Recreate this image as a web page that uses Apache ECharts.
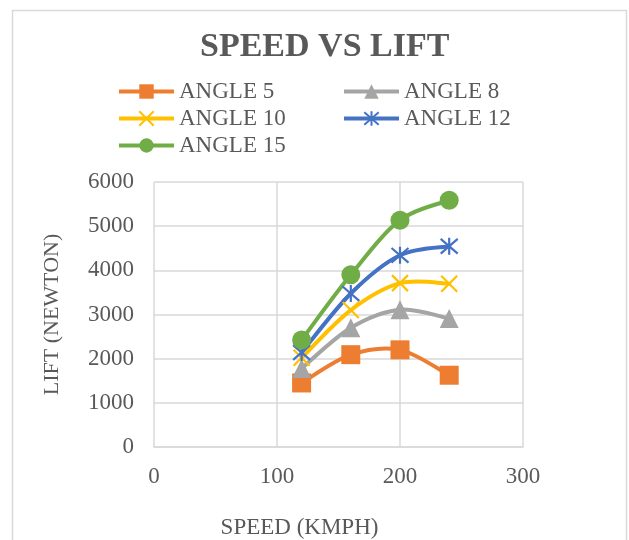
<!DOCTYPE html>
<html>
<head>
<meta charset="utf-8">
<script src="https://cdn.jsdelivr.net/npm/echarts@6/dist/echarts.min.js"></script>
<style>html,body{margin:0;padding:0;background:#fff}#c{width:629px;height:540px}</style>
</head>
<body>
<div id="c"></div>
<script>
var speeds = [120, 160, 200, 240];
var angle5 = [1450, 2090, 2200, 1625];
var angle8 = [1780, 2700, 3110, 2910];
var angle10 = [2020, 3100, 3710, 3695];
var angle12 = [2140, 3475, 4340, 4545];
var angle15 = [2425, 3900, 5135, 5585];
var seriesNames = ['ANGLE 5', 'ANGLE 8', 'ANGLE 10', 'ANGLE 12', 'ANGLE 15'];
var xTicks = [0, 100, 200, 300];
var yTicks = [0, 1000, 2000, 3000, 4000, 5000, 6000];

var FONT = '"Liberation Serif", "Times New Roman", serif';
var TXT = '#595959';
var GRID = '#d9d9d9';
var LW = 4;

function pairs(vals) { return speeds.map(function (s, i) { return [s, vals[i]]; }); }

var X_PATH = 'path://M0,0L10,10M10,0L0,10';
var STAR_PATH = 'path://M5,0L5,10M0.7,0.7L9.3,9.3M9.3,0.7L0.7,9.3';

// Excel-like smoothed curve: each data item draws the Catmull-Rom segment to the next point
function curve(name, vals, color) {
  var data = pairs(vals);
  return {
    name: name + ' curve', type: 'custom', data: data, z: 2, silent: true,
    encode: { x: 0, y: 1 },
    renderItem: function (params, api) {
      var i = params.dataIndex, n = data.length;
      if (i >= n - 1) return null;
      var p0 = api.coord(data[Math.max(i - 1, 0)]);
      var p1 = api.coord(data[i]);
      var p2 = api.coord(data[i + 1]);
      var p3 = api.coord(data[Math.min(i + 2, n - 1)]);
      return {
        type: 'bezierCurve',
        shape: {
          x1: p1[0], y1: p1[1], x2: p2[0], y2: p2[1],
          cpx1: p1[0] + (p2[0] - p0[0]) / 6, cpy1: p1[1] + (p2[1] - p0[1]) / 6,
          cpx2: p2[0] - (p3[0] - p1[0]) / 6, cpy2: p2[1] - (p3[1] - p1[1]) / 6
        },
        style: { stroke: color, lineWidth: LW, fill: 'none', lineCap: 'round' }
      };
    }
  };
}

function marks(name, vals, color, symbol, size, stroke) {
  var s = {
    name: name, type: 'line', data: pairs(vals),
    symbol: symbol, symbolSize: size, showAllSymbol: true,
    lineStyle: { color: color, width: LW, opacity: 0 },
    itemStyle: { color: color },
    emphasis: { disabled: true }, z: 4
  };
  if (stroke) {
    s.itemStyle = { color: color, borderColor: color, borderWidth: 2.2 };
  }
  return s;
}

var legendCommon = {
  orient: 'vertical', padding: 0,
  itemWidth: 55, itemHeight: 18, itemGap: 0,
  lineStyle: { width: LW, opacity: 1 },
  textStyle: { fontFamily: FONT, fontSize: 23, lineHeight: 27, color: TXT }
};

var chart = echarts.init(document.getElementById('c'), null, { renderer: 'canvas' });
chart.setOption({
  backgroundColor: '#fff',
  animation: false,
  graphic: [{
    type: 'rect', shape: { x: 12.5, y: 10.5, width: 614, height: 560 },
    style: { fill: 'none', stroke: GRID, lineWidth: 1.5 }, silent: true, z: -1
  }],
  title: {
    text: 'SPEED VS LIFT', left: 195, top: 25,
    textStyle: { fontFamily: FONT, fontSize: 34, fontWeight: 'bold', color: TXT }
  },
  legend: [
    Object.assign({ left: 117, top: 78, data: [seriesNames[0], seriesNames[2], seriesNames[4]] }, legendCommon),
    Object.assign({ left: 342, top: 78, data: [seriesNames[1], seriesNames[3]] }, legendCommon)
  ],
  grid: { left: 154, right: 106, top: 182, bottom: 93, containLabel: false },
  xAxis: {
    type: 'value', min: xTicks[0], max: xTicks[xTicks.length - 1], interval: 100,
    name: 'SPEED (KMPH)', nameLocation: 'middle', nameGap: 69,
    nameTextStyle: { fontFamily: FONT, fontSize: 23, color: TXT, padding: [0, 78, 0, 0] },
    axisLine: { show: true, lineStyle: { color: GRID, width: 1.5 } },
    axisTick: { show: false },
    axisLabel: { fontFamily: FONT, fontSize: 23, color: TXT, margin: 18, formatter: function (v) { return String(v); } },
    splitLine: { show: true, lineStyle: { color: GRID, width: 1.5 } }
  },
  yAxis: {
    type: 'value', min: yTicks[0], max: yTicks[yTicks.length - 1], interval: 1000,
    name: 'LIFT (NEWTON)', nameLocation: 'middle', nameGap: 91, nameRotate: 90,
    nameTextStyle: { fontFamily: FONT, fontSize: 22, color: TXT },
    axisLine: { show: false },
    axisTick: { show: false },
    axisLabel: { fontFamily: FONT, fontSize: 23, color: TXT, margin: 20, formatter: function (v) { return String(v); } },
    splitLine: { show: true, lineStyle: { color: GRID, width: 1.5 } }
  },
  series: [
    curve(seriesNames[0], angle5, '#ED7D31'),
    curve(seriesNames[1], angle8, '#A5A5A5'),
    curve(seriesNames[2], angle10, '#FFC000'),
    curve(seriesNames[3], angle12, '#4472C4'),
    curve(seriesNames[4], angle15, '#70AD47'),
    marks(seriesNames[0], angle5, '#ED7D31', 'rect', 19, false),
    marks(seriesNames[1], angle8, '#A5A5A5', 'triangle', 19, false),
    marks(seriesNames[2], angle10, '#FFC000', X_PATH, 16, true),
    marks(seriesNames[3], angle12, '#4472C4', STAR_PATH, 17, true),
    marks(seriesNames[4], angle15, '#70AD47', 'circle', 19, false)
  ]
});
</script>
</body>
</html>
